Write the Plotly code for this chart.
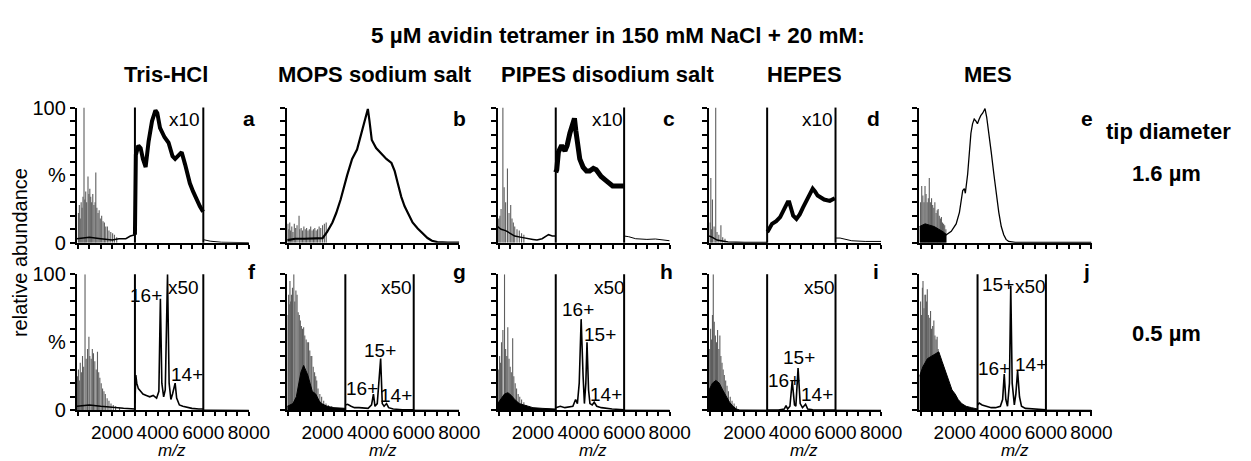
import plotly.graph_objects as go

W, H = 1251, 461
FONT = "Liberation Sans, Arial, Helvetica, sans-serif"

# ------------------------------------------------------------------ data
MZ_RANGE = [450, 8000]
BOX_EDGES = [3000, 6000]          # m/z window that is magnified
TITLE = "5 µM avidin tetramer in 150 mM NaCl + 20 mM:"
BUFFERS = ["Tris-HCl", "MOPS sodium salt", "PIPES disodium salt", "HEPES", "MES"]
TIPS = ["1.6 µm", "0.5 µm"]
X_TICKS = [2000, 4000, 6000, 8000]
Y_TICKVALS = [0, 50, 100]
Y_TICKTEXT = ["0", "%", "100"]

# panel a  (Tris-HCl, 1.6 um)
a_spike_mz = [520, 560, 600, 640, 680, 720, 765, 800, 840, 880, 940, 980, 1020, 1060, 1100, 1150, 1200,
              1250, 1283, 1330, 1380, 1430, 1480, 1540, 1600, 1660, 1720, 1790, 1860, 1940, 2020, 2100, 2200]
a_spike_h = [22, 28, 18, 30, 26, 34, 100, 32, 38, 30, 49, 36, 40, 34, 30, 36, 28,
             30, 52, 26, 22, 24, 18, 20, 16, 15, 12, 12, 9, 8, 7, 6, 4]
a_base_mz = [450, 1000, 1500, 2000, 2300, 2600, 2800, 3000]
a_base_y = [3, 4, 3, 2, 3, 3, 5, 6]
a_box_mz = [3000, 3040, 3150, 3250, 3350, 3470, 3600, 3750, 3900, 3980, 4100, 4300, 4475, 4650, 4764,
            4900, 5051, 5200, 5410, 5550, 5698, 5850, 5990]
a_box_y = [6, 65, 72, 70, 62, 56, 75, 90, 98, 96, 85, 78, 74, 64, 62, 64, 67, 58, 44, 38, 32, 27, 23]
a_tail_mz = [6000, 6300, 6800, 7400, 8000]
a_tail_y = [2.3, 1.2, 0.4, 0.2, 0.1]

# panel b  (MOPS, 1.6 um)
b_spike_mz = [480, 520, 560, 600, 650, 700, 760, 820, 880, 968, 1000, 1060, 1120, 1180, 1240, 1300, 1360,
              1420, 1480, 1540, 1600, 1660, 1720, 1780, 1850, 1920, 2000, 2080, 2160]
b_spike_h = [14, 10, 15, 9, 12, 8, 14, 11, 13, 20, 10, 11, 9, 12, 10, 11, 9,
             10, 12, 9, 10, 11, 9, 10, 12, 11, 13, 14, 15]
b_curve_mz = [450, 800, 1200, 1600, 1900, 2003, 2200, 2434, 2600, 2793, 3081, 3297, 3513, 3729, 3900,
              3988, 4060, 4160, 4350, 4520, 4800, 5023, 5166, 5300, 5454, 5600, 5742, 5950, 6174, 6400,
              6606, 6800, 7037, 7500, 8000]
b_curve_y = [2, 3, 3, 3, 3, 3.5, 8, 15, 22, 32, 50, 62, 69, 83, 94,
             99, 90, 76, 70, 67, 62, 59, 53, 44, 34, 27, 22, 15, 10.5, 6.5,
             3.5, 1.5, 0.5, 0.2, 0.1]

# panel c  (PIPES, 1.6 um)
c_spike_mz = [500, 550, 600, 680, 735, 800, 880, 950, 1023, 1080, 1139, 1200, 1300, 1400, 1500, 1600]
c_spike_h = [18, 20, 25, 100, 41, 30, 55, 22, 28, 18, 15, 12, 10, 9, 7, 6]
c_base_mz = [450, 600, 800, 1000, 1200, 1500, 1745, 2000, 2177, 2400, 2683, 2850, 3000]
c_base_y = [12, 10, 9, 7, 5, 4, 3, 2.5, 2, 3, 6, 5, 5]
c_box_mz = [3000, 3043, 3115, 3260, 3404, 3500, 3620, 3765, 3820, 3880, 3960, 4053, 4198, 4350, 4486,
            4650, 4775, 4991, 5208, 5496, 5785, 5990]
c_box_y = [52, 54, 67, 72, 68, 72, 81, 89, 92, 83, 70, 62, 56, 53, 53, 55, 54, 49, 46, 42, 42, 42]
c_tail_mz = [6000, 6200, 6507, 7000, 7373, 8000]
c_tail_y = [5, 4.5, 3, 2.5, 2.8, 1.5]

# panel d  (HEPES, 1.6 um)
d_spike_mz = [500, 529, 560, 600, 671, 743, 800, 880, 971, 1050, 1150]
d_spike_h = [15, 48, 10, 32, 12, 100, 8, 6, 13, 4, 3]
d_base_mz = [450, 600, 800, 1000, 1286, 2000, 3000]
d_base_y = [5, 4, 2, 1.5, 0.5, 0.3, 0.3]
d_box_mz = [3000, 3029, 3214, 3400, 3571, 3786, 3900, 3971, 4060, 4143, 4286, 4430, 4571, 4786, 4900,
            5000, 5100, 5214, 5500, 5750, 5971]
d_box_y = [8, 8.5, 14, 16, 19, 26, 30, 30, 24, 20, 17.6, 21, 26, 33, 37, 40, 38, 35, 32, 31, 33]
d_tail_mz = [6000, 6200, 6714, 7300, 8000]
d_tail_y = [3.5, 3.5, 1.5, 1, 1]

# panel e  (MES, 1.6 um)
e_spike_mz = [500, 550, 600, 650, 695, 740, 790, 840, 882, 930, 982, 1030, 1080, 1126, 1180, 1230, 1270,
              1320, 1370, 1414, 1460, 1510, 1558, 1610]
e_spike_h = [30, 42, 35, 30, 42, 36, 30, 33, 48, 30, 33, 28, 26, 30, 22, 24, 25,
             20, 18, 19, 15, 14, 13, 10]
e_fill_mz = [450, 700, 900, 1100, 1300, 1500, 1630]
e_fill_y = [12, 14, 13, 12, 10, 8, 6]
e_curve_mz = [1500, 1630, 1846, 2061, 2205, 2300, 2349, 2420, 2464, 2565, 2640, 2709, 2780, 2853, 2930,
              2996, 3060, 3140, 3230, 3327, 3400, 3500, 3600, 3716, 3820, 3932, 4040, 4148, 4250, 4364,
              4651, 6000, 8000]
e_curve_y = [7, 6, 8.5, 14, 22.5, 33, 38.7, 40, 36.6, 50.7, 68, 81, 88, 91.5, 90,
             88, 91, 94, 96, 99.3, 93, 81, 67, 50.7, 35, 22.5, 12, 6, 2.5, 1,
             0.3, 0.2, 0.2]

# panel f  (Tris-HCl, 0.5 um)
f_spike_mz = [480, 520, 560, 600, 650, 700, 750, 810, 860, 920, 980, 1020, 1080, 1130, 1180, 1240, 1300,
              1356, 1410, 1460, 1520, 1580, 1640, 1700, 1780, 1860, 1950, 2050, 2150, 2325]
f_spike_h = [25, 30, 22, 35, 28, 40, 32, 100, 38, 45, 54, 40, 38, 45, 42, 36, 30,
             43, 28, 24, 20, 16, 14, 12, 9, 7, 5, 4, 3, 2]
f_base_mz = [450, 1000, 1500, 2000, 2500, 3000]
f_base_y = [3, 4, 3, 2, 1.5, 1]
f_box_mz = [3000, 3039, 3080, 3150, 3250, 3350, 3500, 3650, 3800, 3950, 4050, 4117, 4180, 4260, 4330,
            4430, 4500, 4577, 4650, 4764, 4830, 4950, 5100, 5300, 5500, 5800, 5990]
f_box_y = [5, 26, 20, 16, 14, 12, 11, 10, 11, 9, 14, 82, 20, 10, 15,
           100, 20, 8, 12, 20, 9, 4, 3, 2, 1.5, 1, 1]
f_tail_mz = [6000, 8000]
f_tail_y = [0.3, 0.1]

# panel g  (MOPS, 0.5 um)
g_spike_mz = [480, 510, 540, 570, 600, 636, 680, 739, 780, 830, 881, 930, 980, 1025, 1070, 1120, 1170,
              1220, 1280, 1330, 1386, 1440, 1490, 1528, 1590, 1650, 1700, 1744, 1800, 1880, 1960, 2050,
              2150, 2249, 2400]
g_spike_h = [70, 85, 78, 95, 80, 85, 90, 100, 80, 88, 85, 72, 70, 66, 62, 60, 61,
             55, 52, 50, 50, 44, 40, 40, 32, 28, 25, 22, 16, 12, 10, 7,
             5, 4, 3]
g_fill_mz = [450, 700, 850, 950, 1050, 1170, 1250, 1350, 1450, 1550, 1700, 1850, 1960, 2200, 2500, 3000]
g_fill_y = [3, 5, 10, 20, 28, 33, 30, 26, 20, 14, 12, 7, 5, 3, 2, 1.5]
g_box_mz = [3000, 3100, 3250, 3400, 3600, 3800, 4000, 4150, 4233, 4300, 4400, 4549, 4620, 4700, 4807,
            4900, 5100, 5500, 5990]
g_box_y = [4, 4.5, 3, 2, 2, 1.5, 1.5, 4, 12, 3, 5, 38, 5, 3, 5, 2, 1, 0.5, 0.5]
g_tail_mz = [6000, 8000]
g_tail_y = [0.2, 0.1]

# panel h  (PIPES, 0.5 um)
h_spike_mz = [500, 536, 580, 620, 680, 752, 800, 850, 896, 950, 1000, 1050, 1110, 1160, 1220, 1280, 1350,
              1420, 1500, 1600, 1700, 1850]
h_spike_h = [30, 40, 35, 50, 59, 100, 45, 40, 61, 38, 32, 28, 53, 25, 20, 16, 12,
             10, 8, 6, 4, 3]
h_fill_mz = [450, 600, 750, 900, 1050, 1200, 1400, 1600, 1800, 2000, 2400, 3000]
h_fill_y = [5, 9, 12, 13, 11, 8, 5, 4, 3, 2, 1.5, 1]
h_box_mz = [3000, 3200, 3400, 3600, 3750, 3871, 3950, 4030, 4114, 4200, 4257, 4320, 4371, 4440, 4500,
            4600, 4686, 4800, 5000, 5471, 5990]
h_box_y = [2, 3, 2, 2.5, 3, 8, 5, 20, 67, 25, 5, 20, 50, 15, 5, 4, 6, 3, 2, 1, 0.5]
h_tail_mz = [6000, 8000]
h_tail_y = [0.2, 0.1]

# panel i  (HEPES, 0.5 um)
i_spike_mz = [480, 520, 560, 600, 636, 680, 730, 780, 825, 880, 925, 970, 1020, 1070, 1120, 1180, 1240,
              1300, 1380, 1460, 1550, 1650]
i_spike_h = [45, 60, 52, 70, 100, 65, 55, 50, 59, 45, 55, 40, 35, 30, 26, 22, 18,
             14, 10, 7, 5, 3]
i_fill_mz = [450, 600, 750, 900, 1050, 1200, 1350, 1500, 1650, 1800, 3000]
i_fill_y = [15, 20, 22, 20, 15, 10, 6, 3, 1, 0.3, 0.2]
i_box_mz = [3000, 3500, 3750, 3829, 3900, 4000, 4100, 4200, 4260, 4357, 4450, 4550, 4686, 4780, 5000,
            5990]
i_box_y = [0.3, 0.3, 1, 3.5, 1, 3, 21.7, 4, 3, 31, 5, 2, 4.6, 1, 0.5, 0.3]
i_tail_mz = [6000, 8000]
i_tail_y = [0.2, 0.1]

# panel j  (MES, 0.5 um)
j_spike_mz = [500, 540, 580, 606, 650, 690, 722, 760, 795, 840, 880, 938, 980, 1030, 1082, 1130, 1180,
              1227, 1270]
j_spike_h = [80, 70, 90, 95, 75, 85, 85, 80, 89, 70, 68, 73, 60, 62, 66, 55, 52, 54, 45]
j_fill_mz = [450, 600, 800, 1000, 1150, 1299, 1442, 1600, 1730, 1880, 2018, 2150, 2305, 2500, 2736, 3000]
j_fill_y = [25, 32, 38, 40, 42, 43, 36, 28, 22, 15, 12, 8, 5, 3, 2, 1]
j_box_mz = [3000, 3071, 3200, 3357, 3600, 3786, 4000, 4100, 4171, 4240, 4314, 4400, 4457, 4520, 4614,
            4680, 4757, 4840, 4929, 5100, 5500, 5990]
j_box_y = [4, 5.4, 4, 3, 2, 2, 3, 8, 26.6, 8, 3, 20, 91.6, 20, 4, 12, 29, 10, 3, 1.5, 1, 0.5]
j_tail_mz = [6000, 8000]
j_tail_y = [0.2, 0.1]

# peak / magnification labels: (text, m/z, %)
LABELS = {
    "a": [("x10", 5195, 91.5)],
    "c": [("x10", 5282, 91.5)],
    "d": [("x10", 5208, 91.5)],
    "f": [("15+", 4259, 106.8), ("16+", 3470, 84.6), ("x50", 5122, 90.4), ("14+", 5269, 26.4)],
    "g": [("16+", 3729, 16), ("15+", 4517, 44), ("14+", 5239, 11.2), ("x50", 5239, 90)],
    "h": [("16+", 3988, 74), ("15+", 4924, 55.5), ("14+", 5195, 11.9), ("x50", 5355, 90.4)],
    "i": [("16+", 3760, 22), ("15+", 4400, 39), ("14+", 5208, 12), ("x50", 5282, 90.4)],
    "j": [("15+", 3888, 92.8), ("x50", 5325, 91), ("16+", 3742, 31), ("14+", 5325, 33.8)],
}

# ------------------------------------------------------------------ layout geometry (pixels)
COL_X0 = [70, 284, 498, 713, 927]
PLOT_W = 175
ROW_Y = [(93, 235), (268, 411)]   # (top, bottom)
LETTER_X = [[245, 459, 672, 880, 1097], [248, 459, 670, 883, 1097]]
LETTER_Y = [105, 265]

panels = {
    "a": dict(spikes=(a_spike_mz, a_spike_h), base=(a_base_mz, a_base_y), box=(a_box_mz, a_box_y),
              tail=(a_tail_mz, a_tail_y), boxw=4, has_box=True),
    "b": dict(spikes=(b_spike_mz, b_spike_h), curve=(b_curve_mz, b_curve_y), curvew=2.2, has_box=False),
    "c": dict(spikes=(c_spike_mz, c_spike_h), base=(c_base_mz, c_base_y), box=(c_box_mz, c_box_y),
              tail=(c_tail_mz, c_tail_y), boxw=5, has_box=True),
    "d": dict(spikes=(d_spike_mz, d_spike_h), base=(d_base_mz, d_base_y), box=(d_box_mz, d_box_y),
              tail=(d_tail_mz, d_tail_y), boxw=4, has_box=True),
    "e": dict(spikes=(e_spike_mz, e_spike_h), fill=(e_fill_mz, e_fill_y), curve=(e_curve_mz, e_curve_y),
              curvew=1.3, has_box=False),
    "f": dict(spikes=(f_spike_mz, f_spike_h), base=(f_base_mz, f_base_y), box=(f_box_mz, f_box_y),
              tail=(f_tail_mz, f_tail_y), boxw=1.6, has_box=True),
    "g": dict(spikes=(g_spike_mz, g_spike_h), fill=(g_fill_mz, g_fill_y), box=(g_box_mz, g_box_y),
              tail=(g_tail_mz, g_tail_y), boxw=1.6, has_box=True),
    "h": dict(spikes=(h_spike_mz, h_spike_h), fill=(h_fill_mz, h_fill_y), box=(h_box_mz, h_box_y),
              tail=(h_tail_mz, h_tail_y), boxw=1.6, has_box=True),
    "i": dict(spikes=(i_spike_mz, i_spike_h), fill=(i_fill_mz, i_fill_y), box=(i_box_mz, i_box_y),
              tail=(i_tail_mz, i_tail_y), boxw=1.6, has_box=True),
    "j": dict(spikes=(j_spike_mz, j_spike_h), fill=(j_fill_mz, j_fill_y), box=(j_box_mz, j_box_y),
              tail=(j_tail_mz, j_tail_y), boxw=1.6, has_box=True),
}


def px_x(px):
    return px / W


def px_y(py):
    return 1 - py / H


fig = go.Figure()
layout = {}
shapes = []
annotations = []

for k, key in enumerate("abcdefghij"):
    row, col = divmod(k, 5)
    idx = k + 1
    xa = "x" if idx == 1 else f"x{idx}"
    ya = "y" if idx == 1 else f"y{idx}"
    p = panels[key]

    # comb of spikes
    sx, sy = [], []
    for m, h in zip(*p["spikes"]):
        sx += [m, m, None]
        sy += [0, h, None]
    fig.add_trace(go.Scatter(x=sx, y=sy, mode="lines", line=dict(color="#5e5e5e", width=1.1),
                             xaxis=xa, yaxis=ya, hoverinfo="skip"))
    if "fill" in p:
        fig.add_trace(go.Scatter(x=p["fill"][0], y=p["fill"][1], mode="lines", fill="tozeroy",
                                 fillcolor="black", line=dict(color="black", width=1),
                                 xaxis=xa, yaxis=ya, hoverinfo="skip"))
    if "base" in p:
        fig.add_trace(go.Scatter(x=p["base"][0], y=p["base"][1], mode="lines",
                                 line=dict(color="black", width=1.5), xaxis=xa, yaxis=ya, hoverinfo="skip"))
    if "box" in p:
        fig.add_trace(go.Scatter(x=p["box"][0], y=p["box"][1], mode="lines",
                                 line=dict(color="black", width=p["boxw"]), xaxis=xa, yaxis=ya,
                                 hoverinfo="skip"))
    if "tail" in p:
        fig.add_trace(go.Scatter(x=p["tail"][0], y=p["tail"][1], mode="lines",
                                 line=dict(color="black", width=1), xaxis=xa, yaxis=ya, hoverinfo="skip"))
    if "curve" in p:
        fig.add_trace(go.Scatter(x=p["curve"][0], y=p["curve"][1], mode="lines",
                                 line=dict(color="black", width=p["curvew"]), xaxis=xa, yaxis=ya,
                                 hoverinfo="skip"))

    x0 = COL_X0[col]
    top, bot = ROW_Y[row]
    xname = "xaxis" if idx == 1 else f"xaxis{idx}"
    yname = "yaxis" if idx == 1 else f"yaxis{idx}"
    layout[xname] = dict(
        domain=[px_x(x0), px_x(x0 + PLOT_W)], anchor=ya, range=MZ_RANGE,
        showline=True, linecolor="black", linewidth=2, showgrid=False, zeroline=False,
        ticks="outside", ticklen=4, tickwidth=1.5, tickcolor="black",
        tickmode="array", tickvals=X_TICKS, showticklabels=(row == 1),
        tickfont=dict(family=FONT, size=19, color="black"),
        minor=dict(ticks="outside", ticklen=4, tickwidth=1.5, tickcolor="black", dtick=500, tick0=0),
    )
    layout[yname] = dict(
        domain=[px_y(bot), px_y(top)], anchor=xa, range=[0, 100],
        showline=True, linecolor="black", linewidth=2, showgrid=False, zeroline=False,
        ticks="outside", ticklen=5, tickwidth=1.5, tickcolor="black",
        tickmode="array", tickvals=Y_TICKVALS, ticktext=Y_TICKTEXT, showticklabels=(col == 0),
        tickfont=dict(family=FONT, size=20, color="black"),
        minor=dict(ticks="outside", ticklen=5, tickwidth=1.5, tickcolor="black", dtick=10, tick0=0),
    )

    if p["has_box"]:
        for edge in BOX_EDGES:
            shapes.append(dict(type="line", xref=xa, yref=f"{ya} domain", x0=edge, x1=edge, y0=0, y1=1,
                               line=dict(color="black", width=2)))

    for txt, mx, my in LABELS.get(key, []):
        annotations.append(dict(text=txt, x=mx, y=my, xref=xa, yref=ya, showarrow=False,
                                font=dict(family=FONT, size=19, color="black"),
                                xanchor="center", yanchor="middle"))

    # panel letter
    annotations.append(dict(text=f"<b>{key}</b>", x=px_x(LETTER_X[row][col]), y=px_y(LETTER_Y[row]),
                            xref="paper", yref="paper", showarrow=False,
                            font=dict(family=FONT, size=21, color="black"),
                            xanchor="center", yanchor="middle"))
    if row == 1:
        annotations.append(dict(text="<i>m/z</i>", x=px_x(x0 + 97), y=px_y(453), xref="paper", yref="paper",
                                showarrow=False, font=dict(family=FONT, size=17, color="black"),
                                xanchor="center", yanchor="middle"))

# titles
annotations.append(dict(text=f"<b>{TITLE}</b>", x=px_x(620), y=px_y(17), xref="paper", yref="paper",
                        showarrow=False, font=dict(family=FONT, size=22.5, color="black"),
                        xanchor="center", yanchor="middle"))
for name, cx in zip(BUFFERS, [161, 373, 610, 810, 997]):
    annotations.append(dict(text=f"<b>{name}</b>", x=px_x(cx), y=px_y(58), xref="paper", yref="paper",
                            showarrow=False, font=dict(family=FONT, size=22, color="black"),
                            xanchor="center", yanchor="middle"))
annotations.append(dict(text="<b>tip diameter</b>", x=px_x(1180), y=px_y(118), xref="paper", yref="paper",
                        showarrow=False, font=dict(family=FONT, size=22, color="black"),
                        xanchor="center", yanchor="middle"))
for t, cy in zip(TIPS, [162, 330]):
    annotations.append(dict(text=f"<b>{t}</b>", x=px_x(1178), y=px_y(cy), xref="paper", yref="paper",
                            showarrow=False, font=dict(family=FONT, size=22, color="black"),
                            xanchor="center", yanchor="middle"))
annotations.append(dict(text="relative abundance", x=px_x(13), y=px_y(245), xref="paper", yref="paper",
                        showarrow=False, textangle=-90, font=dict(family=FONT, size=20, color="black"),
                        xanchor="center", yanchor="middle"))

fig.update_layout(
    width=W, height=H, margin=dict(l=0, r=0, t=0, b=0),
    paper_bgcolor="white", plot_bgcolor="white", showlegend=False,
    shapes=shapes, annotations=annotations, **layout,
)

fig.write_html("out.html")
